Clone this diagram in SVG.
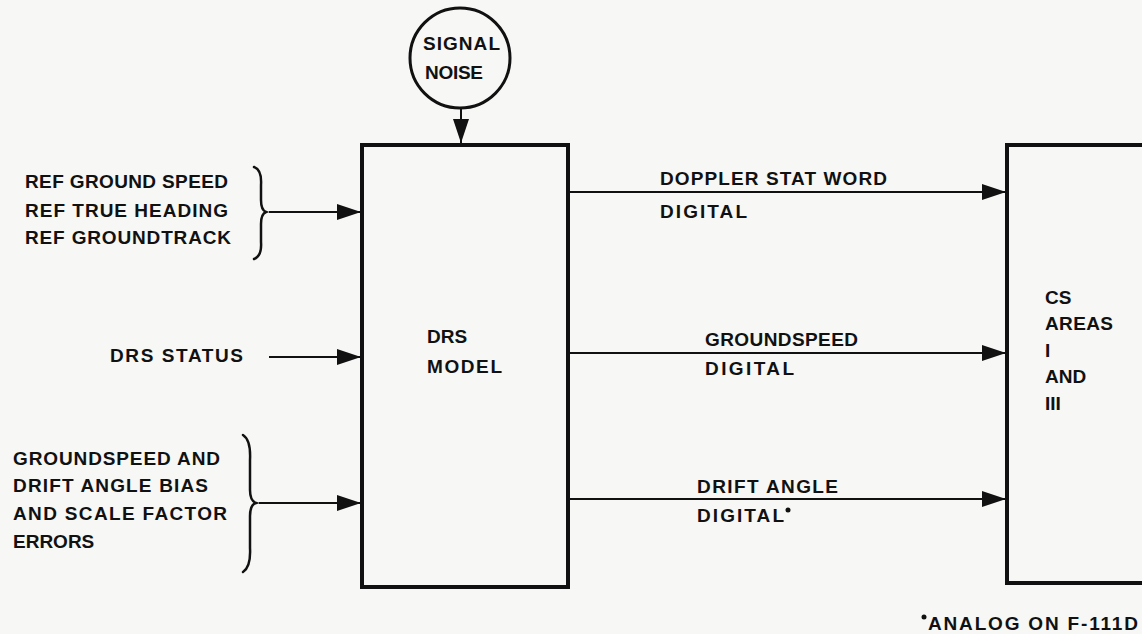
<svg xmlns="http://www.w3.org/2000/svg" width="1142" height="634" viewBox="0 0 1142 634">
<style>
text{font-family:"Liberation Sans","DejaVu Sans",sans-serif;font-size:19px;font-weight:bold;fill:#111}
.box{fill:none;stroke:#111;stroke-width:4}
.ln{fill:none;stroke:#111;stroke-width:2}
.br{fill:none;stroke:#111;stroke-width:2.5;stroke-linecap:round}
</style>
<defs>
<marker id="ah" viewBox="0 0 24 16" refX="24" refY="8" markerWidth="24" markerHeight="16" markerUnits="userSpaceOnUse" orient="auto">
<path d="M0,0 L24,8 L0,16 Z" fill="#111"/>
</marker>
</defs>
<rect width="1142" height="634" fill="#f7f7f5"/>
<g id="connectors">
<line class="ln" x1="461" y1="108" x2="461" y2="143" marker-end="url(#ah)"/>
<line class="ln" x1="269" y1="212" x2="361" y2="212" marker-end="url(#ah)"/>
<line class="ln" x1="269" y1="357" x2="361" y2="357" marker-end="url(#ah)"/>
<line class="ln" x1="259" y1="503" x2="361" y2="503" marker-end="url(#ah)"/>
<line class="ln" x1="569" y1="192" x2="1006" y2="192" marker-end="url(#ah)"/>
<line class="ln" x1="569" y1="353" x2="1006" y2="353" marker-end="url(#ah)"/>
<line class="ln" x1="569" y1="499" x2="1006" y2="499" marker-end="url(#ah)"/>
<text x="660" y="185" textLength="227">DOPPLER STAT WORD</text>
<text x="660" y="218" textLength="87">DIGITAL</text>
<text x="705" y="346" textLength="153">GROUNDSPEED</text>
<text x="705" y="375" textLength="89">DIGITAL</text>
<text x="697" y="493" textLength="141">DRIFT ANGLE</text>
<text x="697" y="522" textLength="87">DIGITAL</text>
<circle cx="788" cy="510" r="2.5" fill="#111"/>
</g>
<g id="noise">
<circle cx="460" cy="58" r="50" fill="none" stroke="#111" stroke-width="3"/>
<text x="423" y="50" textLength="77">SIGNAL</text>
<text x="425" y="79" textLength="58">NOISE</text>
</g>
<g id="drs-model">
<rect class="box" x="362" y="145" width="206" height="442"/>
<text x="427" y="343">DRS</text>
<text x="427" y="373" textLength="75">MODEL</text>
</g>
<g id="cs-areas">
<rect class="box" x="1007" y="145" width="150" height="438"/>
<text x="1045" y="304">CS</text>
<text x="1045" y="330" textLength="68">AREAS</text>
<text x="1045" y="357">I</text>
<text x="1045" y="383">AND</text>
<text x="1045" y="410">III</text>
</g>
<g id="ref-inputs">
<text x="25" y="188" textLength="203">REF GROUND SPEED</text>
<text x="25" y="217" textLength="203">REF TRUE HEADING</text>
<text x="25" y="244" textLength="206">REF GROUNDTRACK</text>
<path class="br" d="M254,167 Q262,170 261,185 L261,200 Q261,210 266,212 Q261,214 261,224 L261,242 Q262,256 254,259"/>
</g>
<g id="drs-status">
<text x="110" y="362" textLength="133">DRS STATUS</text>
</g>
<g id="errors-inputs">
<text x="13" y="465" textLength="207">GROUNDSPEED AND</text>
<text x="13" y="492" textLength="195">DRIFT ANGLE BIAS</text>
<text x="13" y="520" textLength="214">AND SCALE FACTOR</text>
<text x="13" y="548">ERRORS</text>
<path class="br" d="M243,435 Q251,440 250,460 L250,490 Q250,501 256,503 Q250,505 250,516 L250,548 Q251,567 243,572"/>
</g>
<g id="footnote">
<circle cx="924" cy="617" r="2.5" fill="#111"/>
<text x="928" y="630" textLength="210">ANALOG ON F-111D</text>
</g>
</svg>
